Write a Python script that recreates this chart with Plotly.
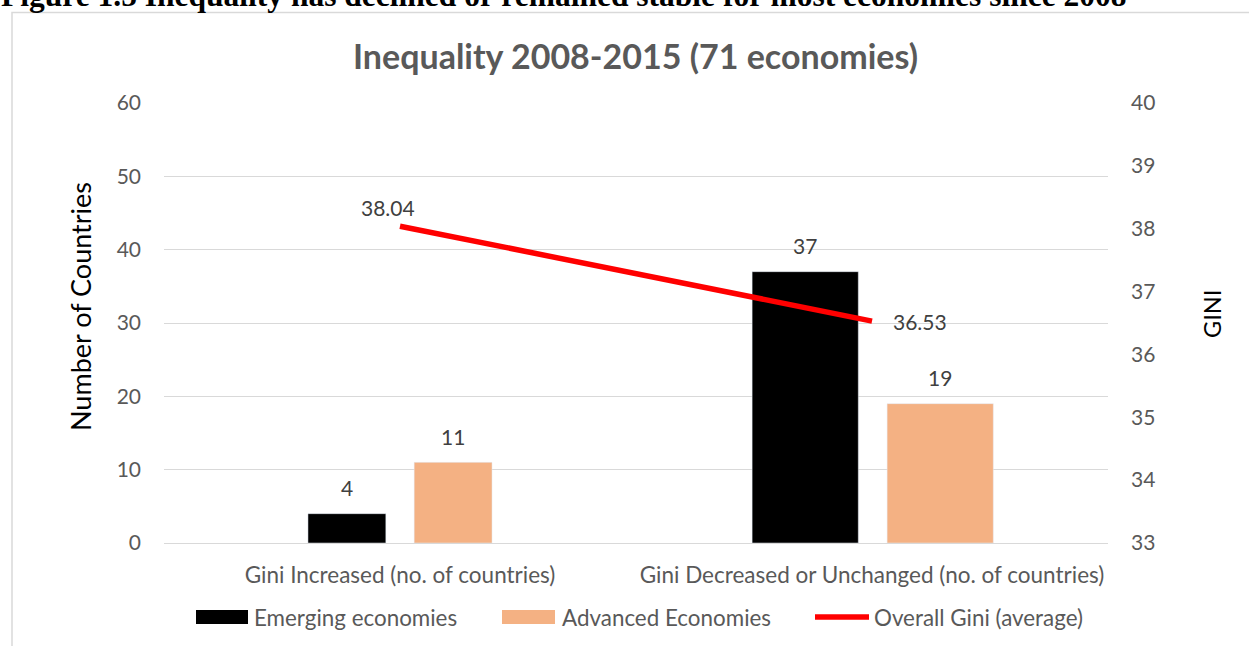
import plotly.graph_objects as go

# ---- data ----
categories = ["Gini Increased (no. of countries)", "Gini Decreased or Unchanged (no. of countries)"]
emerging = [4, 37]
advanced = [11, 19]
gini_avg = [38.04, 36.53]
left_ticks = [0, 10, 20, 30, 40, 50, 60]
right_ticks = [33, 34, 35, 36, 37, 38, 39, 40]

# ---- style (bar geometry in category units) ----
bar_w = [0.165, 0.225]
off_em = [-0.195, -0.254]
off_adv = [0.030, 0.032]

W, H = 1249, 646
L, R, T, B = 164, 1108, 103, 543
pw, ph = R - L, B - T


def px(x):
    return (x - L) / pw


def py(y):
    return (B - y) / ph


FONT = "Lato"
GREY = "#595959"
LBL = "#404040"

fig = go.Figure()
fig.add_trace(go.Bar(x=categories, y=emerging, name="Emerging economies", marker_color="#000000",
                     width=bar_w, offset=off_em, showlegend=False))
fig.add_trace(go.Bar(x=categories, y=advanced, name="Advanced Economies", marker_color="#F4B183",
                     width=bar_w, offset=off_adv, showlegend=False))
fig.add_trace(go.Scatter(x=categories, y=gini_avg, name="Overall Gini (average)", mode="lines",
                         line=dict(color="#FF0000", width=5.5), yaxis="y2", showlegend=False))

ann = []
# bar data labels
for i, v in enumerate(emerging):
    ann.append(dict(x=i + off_em[i] + bar_w[i] / 2, y=v, xref="x", yref="y", text=str(v),
                    showarrow=False, yanchor="middle", yshift=26, font=dict(size=21, color=LBL, family=FONT)))
for i, v in enumerate(advanced):
    ann.append(dict(x=i + off_adv[i] + bar_w[i] / 2, y=v, xref="x", yref="y", text=str(v),
                    showarrow=False, yanchor="middle", yshift=26, font=dict(size=21, color=LBL, family=FONT)))
# line labels
line_shift = [(-12, 19), (48, 0)]
for i, v in enumerate(gini_avg):
    ann.append(dict(x=i, y=v, xref="x", yref="y2", text=f"{v:.2f}", showarrow=False,
                    xshift=line_shift[i][0], yshift=line_shift[i][1], yanchor="middle",
                    font=dict(size=21, color=LBL, family=FONT)))

# title
ann.append(dict(x=px(635), y=py(56), xref="paper", yref="paper", text="<b>Inequality 2008-2015 (71 economies)</b>",
                showarrow=False, xanchor="center", yanchor="middle", font=dict(size=34, color=GREY, family=FONT)))
# caption at top (clipped by the page edge, as in the source)
ann.append(dict(x=px(-1), y=py(15), xref="paper", yref="paper",
                text="<b>Figure 1.5 Inequality has declined or remained stable for most economies since 2008</b>",
                showarrow=False, xanchor="left", yanchor="bottom",
                font=dict(size=31.5, color="#000000", family="Liberation Serif")))
# axis titles
ann.append(dict(x=px(80), y=py(307), xref="paper", yref="paper", text="Number of Countries", textangle=-90,
                showarrow=False, xanchor="center", yanchor="middle", font=dict(size=27, color="#000000", family=FONT)))
ann.append(dict(x=px(1212), y=py(314), xref="paper", yref="paper", text="GINI", textangle=-90,
                showarrow=False, xanchor="center", yanchor="middle", font=dict(size=23.5, color="#000000", family=FONT)))

# custom legend
shapes = []
leg_y = 617
leg_items = [
    ("rect", "#000000", 196, 248, 252, "Emerging economies"),
    ("rect", "#F4B183", 502, 555, 560, "Advanced Economies"),
    ("line", "#FF0000", 815, 869, 872, "Overall Gini (average)"),
]
for kind, col, x0, x1, tx, label in leg_items:
    if kind == "rect":
        shapes.append(dict(type="rect", xref="paper", yref="paper", x0=px(x0), x1=px(x1),
                           y0=py(leg_y + 7), y1=py(leg_y - 7), fillcolor=col, line=dict(width=0)))
    else:
        shapes.append(dict(type="line", xref="paper", yref="paper", x0=px(x0), x1=px(x1),
                           y0=py(leg_y), y1=py(leg_y), line=dict(color=col, width=5.5)))
    ann.append(dict(x=px(tx), y=py(leg_y), xref="paper", yref="paper", text=label, showarrow=False,
                    xanchor="left", yanchor="middle", font=dict(size=22.4, color=GREY, family=FONT)))

# chart frame
shapes.append(dict(type="rect", xref="paper", yref="paper", x0=px(12), x1=px(1262), y0=py(660), y1=py(12.5),
                   line=dict(color="#D9D9D9", width=1.5), fillcolor="rgba(0,0,0,0)", layer="below"))

fig.update_layout(
    width=W, height=H,
    margin=dict(l=L, r=W - R, t=T, b=H - B),
    paper_bgcolor="white", plot_bgcolor="white",
    barmode="group",
    font=dict(family=FONT, color=GREY, size=21),
    xaxis=dict(type="category", range=[-0.5, 1.5], showgrid=False, showline=True, linecolor="#D9D9D9",
               linewidth=1, ticks="", tickfont=dict(size=22.5, color=GREY), ticklabelstandoff=12, zeroline=False),
    yaxis=dict(range=[0, 60], tickvals=left_ticks, showgrid=True, gridcolor="#D9D9D9", gridwidth=1,
               zeroline=False, showline=False, ticks="", tickfont=dict(size=21, color=GREY), ticklabelstandoff=22),
    yaxis2=dict(range=[33, 40], tickvals=right_ticks, overlaying="y", side="right", showgrid=False,
                zeroline=False, showline=False, ticks="", tickfont=dict(size=21, color=GREY), ticklabelstandoff=22),
    annotations=ann,
    shapes=shapes,
)

fig.write_html("out.html", config={"displayModeBar": False},
               post_script="document.body.style.margin='0';document.body.style.overflow='hidden';")
